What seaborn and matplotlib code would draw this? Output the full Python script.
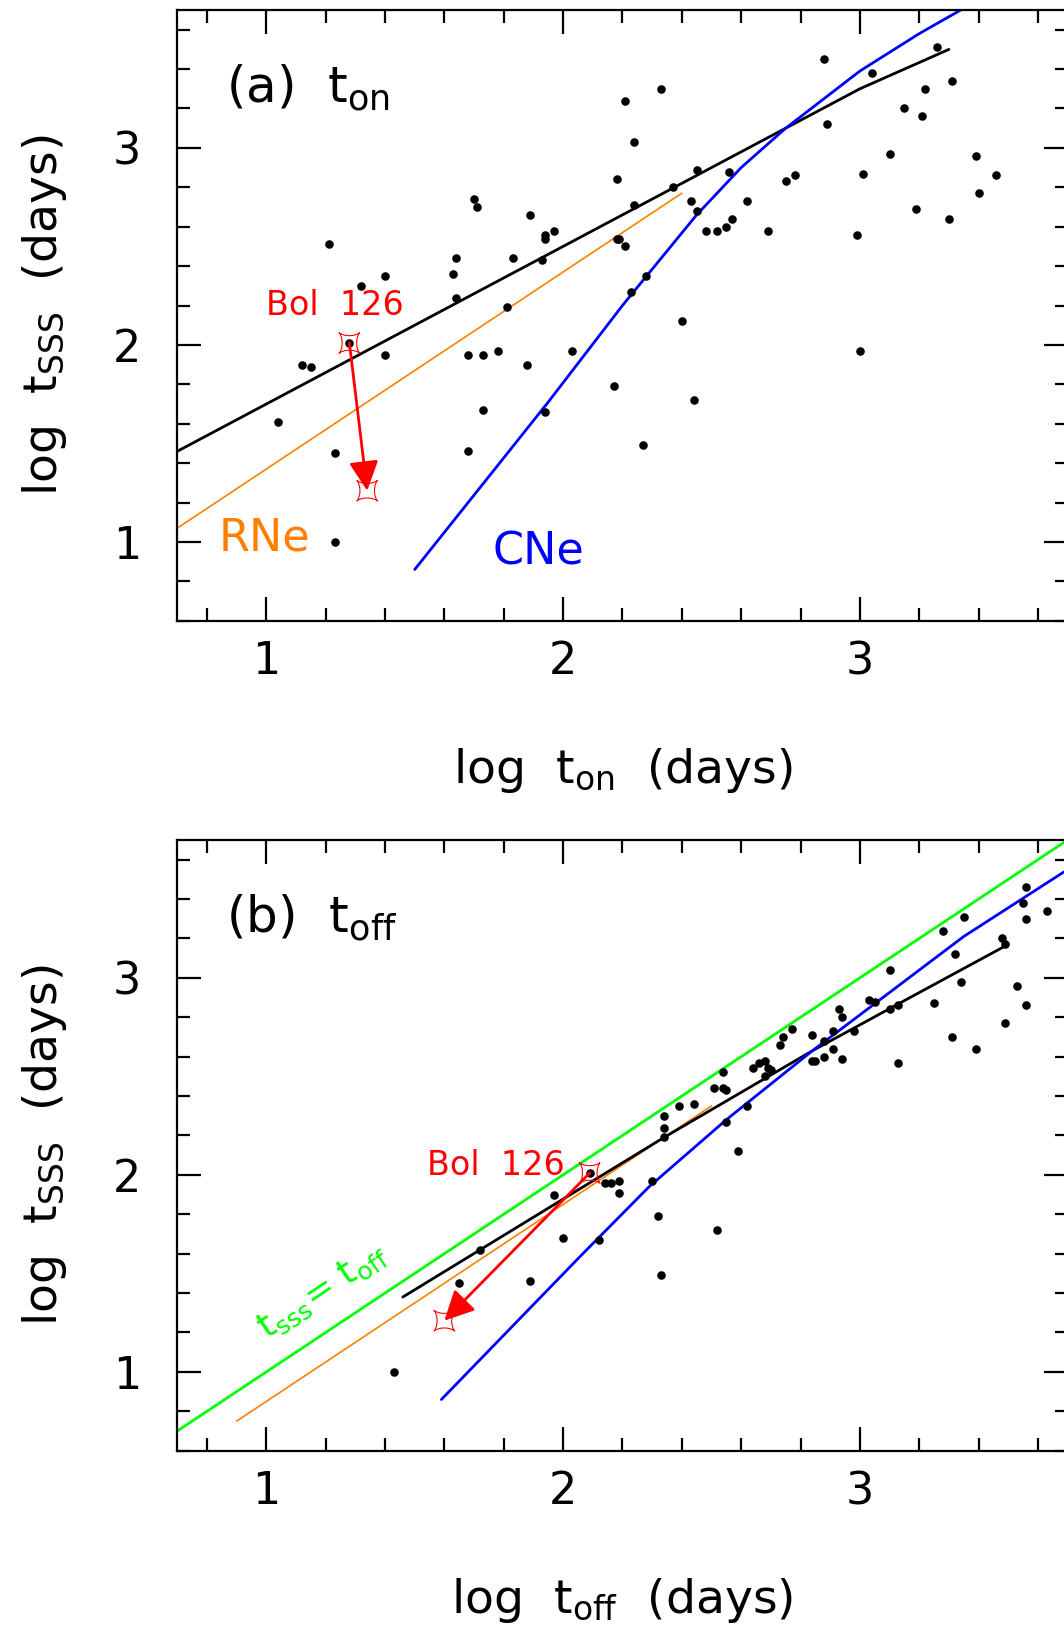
import numpy as np
import matplotlib
matplotlib.use("Agg")
import matplotlib.pyplot as plt
import seaborn as sns
from matplotlib.path import Path
from matplotlib.ticker import MultipleLocator

# ---------------- data ----------------
# panel (a): log t_on vs log t_sss
a_x = [2.21, 2.24, 2.18, 2.24, 1.70, 1.71, 1.89, 1.97, 1.94, 1.94, 2.18, 2.19, 2.21,
       1.21, 1.64, 1.83, 1.93, 1.40, 1.32, 1.63, 1.64, 1.81, 2.28, 2.23,
       2.33, 2.88, 3.04, 3.26, 3.22, 3.31, 3.15, 3.21, 2.89, 3.10, 3.39, 2.45, 2.56,
       3.01, 3.46, 2.78, 2.75, 2.37, 3.40, 2.43, 2.62, 2.45, 3.19, 3.30, 2.57, 2.55,
       2.48, 2.52, 2.69, 2.99, 2.40, 1.28,
       1.12, 1.15, 1.40, 1.68, 1.73, 1.78, 1.88, 2.03, 2.17, 1.73, 1.94, 1.04, 1.23,
       1.68, 2.27, 1.23, 3.00, 2.44]
a_y = [3.24, 3.03, 2.84, 2.71, 2.74, 2.70, 2.66, 2.58, 2.56, 2.54, 2.54, 2.54, 2.50,
       2.51, 2.44, 2.44, 2.43, 2.35, 2.30, 2.36, 2.24, 2.19, 2.35, 2.27,
       3.30, 3.45, 3.38, 3.51, 3.30, 3.34, 3.20, 3.16, 3.12, 2.97, 2.96, 2.89, 2.88,
       2.87, 2.86, 2.86, 2.83, 2.80, 2.77, 2.73, 2.73, 2.68, 2.69, 2.64, 2.64, 2.60,
       2.58, 2.58, 2.58, 2.56, 2.12, 2.01,
       1.90, 1.89, 1.95, 1.95, 1.95, 1.97, 1.90, 1.97, 1.79, 1.67, 1.66, 1.61, 1.45,
       1.46, 1.49, 1.00, 1.97, 1.72]

# panel (b): log t_off vs log t_sss
b_x = [3.56, 3.55, 3.56, 3.63, 3.35, 3.28, 3.48, 3.49, 3.32, 3.10, 3.34, 3.53, 3.25,
       3.56, 3.03, 3.05, 3.13, 3.10, 3.49, 2.93, 2.94, 2.77, 2.74, 2.73, 2.84, 2.91,
       2.98, 2.88, 2.91, 3.31, 3.39, 2.84, 2.85, 2.88, 2.94, 3.13, 2.68, 2.66, 2.64,
       2.69, 2.70, 2.68, 2.54, 2.51, 2.54, 2.55, 2.44, 2.39, 2.62, 2.34, 2.34, 2.34,
       2.55, 2.59, 2.09, 1.97, 2.14, 2.16, 2.19, 2.19, 2.30, 1.72, 2.00, 2.12, 1.89,
       1.65, 1.43, 2.32, 2.52, 2.33]
b_y = [3.46, 3.38, 3.30, 3.34, 3.31, 3.24, 3.20, 3.17, 3.12, 3.04, 2.98, 2.96, 2.87,
       2.86, 2.89, 2.88, 2.86, 2.84, 2.77, 2.84, 2.80, 2.74, 2.70, 2.66, 2.71, 2.73,
       2.73, 2.68, 2.64, 2.70, 2.64, 2.58, 2.58, 2.60, 2.59, 2.57, 2.58, 2.57, 2.54,
       2.54, 2.53, 2.50, 2.52, 2.44, 2.44, 2.43, 2.36, 2.35, 2.35, 2.30, 2.24, 2.19,
       2.27, 2.12, 2.01, 1.90, 1.96, 1.96, 1.97, 1.91, 1.97, 1.62, 1.68, 1.67, 1.46,
       1.45, 1.00, 1.79, 1.72, 1.49]

# fitted relations
a_black_x = [0.70, 3.00, 3.30]
a_black_y = [1.46, 3.30, 3.50]
a_rne_x = [0.70, 2.40]
a_rne_y = [1.07, 2.77]
a_cne_x = [1.50, 1.95, 2.20, 2.45, 2.60, 2.75, 3.00, 3.20, 3.34]
a_cne_y = [0.86, 1.71, 2.20, 2.66, 2.90, 3.10, 3.39, 3.58, 3.70]

b_black_x = [1.46, 2.34, 2.84, 3.12, 3.50]
b_black_y = [1.38, 2.19, 2.63, 2.86, 3.17]
b_rne_x = [0.90, 2.50]
b_rne_y = [0.75, 2.35]
b_cne_x = [1.59, 2.06, 2.29, 2.55, 2.84, 3.35, 3.69]
b_cne_y = [0.86, 1.59, 1.94, 2.28, 2.63, 3.21, 3.54]
b_equal_x = [0.70, 3.70]
b_equal_y = [0.70, 3.70]

# Bol 126 (start -> end)
bol_a_x = [1.28, 1.34]
bol_a_y = [2.01, 1.26]
bol_b_x = [2.09, 1.60]
bol_b_y = [2.01, 1.26]

# ---------------- style ----------------
sns.set_style("ticks")
plt.rcParams["font.family"] = ["DejaVu Sans"]
plt.rcParams["mathtext.fontset"] = "dejavusans"
for k in ["text.color", "axes.labelcolor", "xtick.color", "ytick.color",
          "axes.edgecolor"]:
    plt.rcParams[k] = "black"

ORANGE = "#FF8000"
BLUE = "#0000FF"
GREEN = "#00FF00"
RED = "#FF0000"

# astroid star marker (corners on diagonals)
t = np.linspace(0, 2 * np.pi, 81)
sx, sy = np.cos(t) ** 3, np.sin(t) ** 3
c, s = np.cos(np.pi / 4), np.sin(np.pi / 4)
star = Path(np.column_stack([c * sx - s * sy, s * sx + c * sy]))

fig = plt.figure(figsize=(10.64, 16.37), dpi=100)
ax_a = fig.add_axes([0.1666, 0.6208, 0.8368, 0.3731])
ax_b = fig.add_axes([0.1666, 0.1138, 0.8368, 0.3731])


def style(ax, xlabel):
    ax.set_xlim(0.7, 3.7)
    ax.set_ylim(0.6, 3.7)
    ax.set_xticks([1, 2, 3])
    ax.set_yticks([1, 2, 3])
    ax.xaxis.set_minor_locator(MultipleLocator(0.2))
    ax.yaxis.set_minor_locator(MultipleLocator(0.2))
    ax.tick_params(which="both", direction="in", top=True, right=True,
                   width=1.6, color="black", labelcolor="black")
    ax.tick_params(which="major", length=17.5, labelsize=32)
    ax.tick_params(which="minor", length=9.2)
    ax.tick_params(axis="x", which="major", pad=14)
    ax.tick_params(axis="y", which="major", pad=26)
    for sp in ax.spines.values():
        sp.set_linewidth(1.6)
        sp.set_color("black")
        sp.set_visible(True)
    ax.set_xlabel(xlabel, fontsize=34, color="black")
    ax.xaxis.set_label_coords(0.5, -0.205)
    ax.set_ylabel(r"log  $\mathregular{t_{SSS}}$  (days)", fontsize=34, color="black")
    ax.yaxis.set_label_coords(-0.122, 0.5)


def draw_line(ax, x, y, color, lw):
    sns.lineplot(x=x, y=y, sort=False, estimator=None, color=color,
                 linewidth=lw, ax=ax, zorder=2)


def bol(ax, bx, by, tx, ty):
    ax.scatter(bx, by, marker=star, s=220, facecolors="none",
               edgecolors=RED, linewidths=0.8, zorder=4)
    ax.annotate("", xy=(bx[1], by[1]), xytext=(bx[0], by[0]),
                arrowprops=dict(arrowstyle="-|>,head_length=0.4,head_width=0.2",
                                color=RED, lw=2, mutation_scale=45,
                                shrinkA=0, shrinkB=0), zorder=5)
    ax.text(tx, ty, "Bol  126", color=RED, fontsize=24, ha="left", va="baseline")


# ---------------- panel (a) ----------------
draw_line(ax_a, a_black_x, a_black_y, "black", 2.0)
draw_line(ax_a, a_rne_x, a_rne_y, ORANGE, 1.2)
draw_line(ax_a, a_cne_x, a_cne_y, BLUE, 2.0)
sns.scatterplot(x=a_x, y=a_y, color="black", s=38, linewidth=0, ax=ax_a, zorder=3)
bol(ax_a, bol_a_x, bol_a_y, 1.0, 2.15)
ax_a.text(0.838, 0.957, "RNe", color=ORANGE, fontsize=32, ha="left", va="baseline")
ax_a.text(1.763, 0.885, "CNe", color=BLUE, fontsize=32, ha="left", va="baseline")
ax_a.text(0.055, 0.848, r"(a)  $\mathregular{t_{on}}$", transform=ax_a.transAxes,
          fontsize=36, ha="left", va="baseline")
style(ax_a, r"log  $\mathregular{t_{on}}$  (days)")

# ---------------- panel (b) ----------------
draw_line(ax_b, b_equal_x, b_equal_y, GREEN, 2.0)
draw_line(ax_b, b_rne_x, b_rne_y, ORANGE, 1.2)
draw_line(ax_b, b_black_x, b_black_y, "black", 2.0)
draw_line(ax_b, b_cne_x, b_cne_y, BLUE, 2.0)
sns.scatterplot(x=b_x, y=b_y, color="black", s=38, linewidth=0, ax=ax_b, zorder=3)
bol(ax_b, bol_b_x, bol_b_y, 1.54, 2.0)
ax_b.text(1.19, 1.41, r"$\mathregular{t_{sss}}$= $\mathregular{t_{off}}$",
          color=GREEN, fontsize=26, rotation=33.6, rotation_mode="anchor",
          ha="center", va="center")
ax_b.text(0.055, 0.848, r"(b)  $\mathregular{t_{off}}$", transform=ax_b.transAxes,
          fontsize=36, ha="left", va="baseline")
style(ax_b, r"log  $\mathregular{t_{off}}$  (days)")

fig.savefig("out.png", dpi=100)
